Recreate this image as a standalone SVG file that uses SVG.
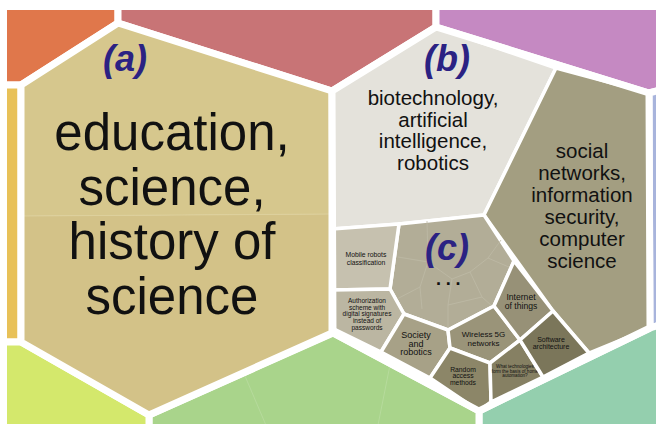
<svg xmlns="http://www.w3.org/2000/svg" width="656" height="424" viewBox="0 0 656 424">
<style>
text{font-family:"Liberation Sans",Arial,sans-serif;fill:#111;text-anchor:middle}
.lbl{font-weight:bold;font-style:italic;fill:#2B2283;font-size:36px}
.outer{stroke:#fff;stroke-width:7;stroke-linejoin:round}
.inner{stroke:#fff;stroke-width:3.5;stroke-linejoin:round}
.faint{stroke:#BEBAA6;stroke-width:0.8;fill:none}
.gfaint{stroke:#B6DA9C;stroke-width:1;fill:none}
.big{font-size:51px}
.mid{font-size:20.5px}
</style>
<defs><clipPath id="frame"><rect x="7" y="10" width="649" height="414"/></clipPath></defs>
<rect width="656" height="424" fill="#fff"/>
<g clip-path="url(#frame)">
<g id="orange"><polygon class="outer" fill="#E0774B" points="0,0 118,0 118,23 21,85 0,85"/></g>
<g id="red"><polygon class="outer" fill="#C87476" points="118,0 436,0 436,27 332,91 118,23"/></g>
<g id="purple"><polygon class="outer" fill="#C589C2" points="436,0 660,0 660,90 649,93 436,27"/></g>
<g id="yellow"><polygon class="outer" fill="#E8C158" points="0,85 21,85 21,342 0,342"/></g>
<g id="blue"><polygon class="outer" fill="#A8B4DC" points="649,93 660,90 660,325 650,328"/></g>
<g id="teal"><polygon class="outer" fill="#94CFAE" points="479,411 650,328 660,325 660,430 479,430"/></g>
<g id="green"><polygon class="outer" fill="#A9D48B" points="149,415 333,333 479,411 479,430 149,430"/>
<line class="gfaint" x1="245" y1="376" x2="268" y2="430"/><line class="gfaint" x1="390" y1="365" x2="377" y2="430"/></g>
<g id="yellowgreen"><polygon class="outer" fill="#D4E86C" points="0,342 21,342 149,415 149,430 0,430"/></g>
<g id="a">
<polygon fill="#D6C78D" points="118,23 332,91 332,214 21,216 21,85"/>
<polygon fill="#D3C288" points="21,216 332,214 332,333 149,415 21,342"/>
<line x1="21" y1="216" x2="332" y2="214" stroke="#DDD09C" stroke-width="1.2"/>
<polygon class="outer" fill="none" points="118,23 332,91 332,333 149,415 21,342 21,85"/>
<text class="lbl" x="125" y="71">(a)</text>
<text class="big" x="172" y="150">education,</text>
<text class="big" x="172" y="205">science,</text>
<text class="big" x="172" y="259">history of</text>
<text class="big" x="172" y="314">science</text>
</g>
<g id="b">
<g id="b-gray"><polygon class="inner" fill="#E4E2DB" points="436,27 556,68 484,215 399,224 332,229 332,91"/>
<text class="mid" x="433" y="105">biotechnology,</text>
<text class="mid" x="433" y="126.5">artificial</text>
<text class="mid" x="433" y="148">intelligence,</text>
<text class="mid" x="433" y="169.5">robotics</text></g>
<g id="b-olive"><polygon class="inner" fill="#A39E81" points="556,68 649,93 650,328 589,353 553,311 484,215"/>
<text class="mid" x="582" y="158">social</text>
<text class="mid" x="582" y="180">networks,</text>
<text class="mid" x="582" y="202">information</text>
<text class="mid" x="582" y="224">security,</text>
<text class="mid" x="582" y="246">computer</text>
<text class="mid" x="582" y="268">science</text></g>
<g id="c"><polygon class="inner" fill="#B2AD97" points="399,224 484,215 514,261 494,306 448,330 404,314 390,289"/>
<polyline class="faint" points="427,221 428,262 398,257"/>
<polyline class="faint" points="428,262 420,287 395,300"/>
<polyline class="faint" points="428,262 452,279 470,272 488,258 501,240"/>
<polyline class="faint" points="488,258 511,268"/>
<polyline class="faint" points="470,272 482,297 492,306"/>
<polyline class="faint" points="452,279 448,305 448,330"/>
<polyline class="faint" points="420,287 422,309"/>
<polyline class="faint" points="448,305 482,297"/>
<text class="lbl" x="447" y="260">(c)</text>
<text x="436" y="285" style="font-size:18px;font-weight:bold;text-anchor:start;letter-spacing:4.7px">...</text></g>
<g id="mobile"><polygon class="inner" fill="#C6C1AF" points="332,229 399,224 390,289 332,290"/>
<text x="366" y="257" style="font-size:6.8px">Mobile robots</text>
<text x="366" y="265" style="font-size:6.8px">classification</text></g>
<g id="auth"><polygon class="inner" fill="#BBB6A2" points="332,290 390,289 404,314 381,352 332,328"/>
<g style="font-size:6.5px"><text x="367" y="303">Authorization</text><text x="367" y="309.7">scheme with</text><text x="367" y="316.4">digital signatures</text><text x="367" y="323.1">instead of</text><text x="367" y="329.8">passwords</text></g></g>
<g id="society"><polygon class="inner" fill="#A7A187" points="404,314 448,330 450,348 430,378 381,352"/>
<g style="font-size:9px"><text x="416" y="338">Society</text><text x="416" y="346.7">and</text><text x="416" y="355.4">robotics</text></g></g>
<g id="wireless"><polygon class="inner" fill="#9A9479" points="448,330 494,306 520,340 490,363 450,348"/>
<g style="font-size:8px"><text x="483.5" y="337">Wireless 5G</text><text x="483.5" y="345.5">networks</text></g></g>
<g id="internet"><polygon class="inner" fill="#979177" points="514,261 553,311 520,340 494,306"/>
<g style="font-size:8.6px"><text x="521" y="299.5">Internet</text><text x="521" y="308.5">of things</text></g></g>
<g id="random"><polygon class="inner" fill="#8C8668" points="430,378 450,348 490,363 491,402 479,411"/>
<g style="font-size:6.8px"><text x="463" y="371.7">Random</text><text x="463" y="378.2">access</text><text x="463" y="384.7">methods</text></g></g>
<g id="whattech"><polygon class="inner" fill="#868063" points="490,363 520,340 543,377 491,402"/>
<g style="font-size:4.6px"><text x="515" y="368.3">What technologies</text><text x="515" y="372.6">form the basis of home</text><text x="515" y="376.9">automation?</text></g></g>
<g id="software"><polygon class="inner" fill="#7B765A" points="520,340 553,311 589,353 543,377"/>
<g style="font-size:7px"><text x="551" y="342">Software</text><text x="551" y="349.3">architecture</text></g></g>
<polygon class="outer" fill="none" points="436,27 649,93 650,328 479,411 333,333 332,91"/>
<text class="lbl" x="447" y="71">(b)</text>
</g>
</g>
</svg>
